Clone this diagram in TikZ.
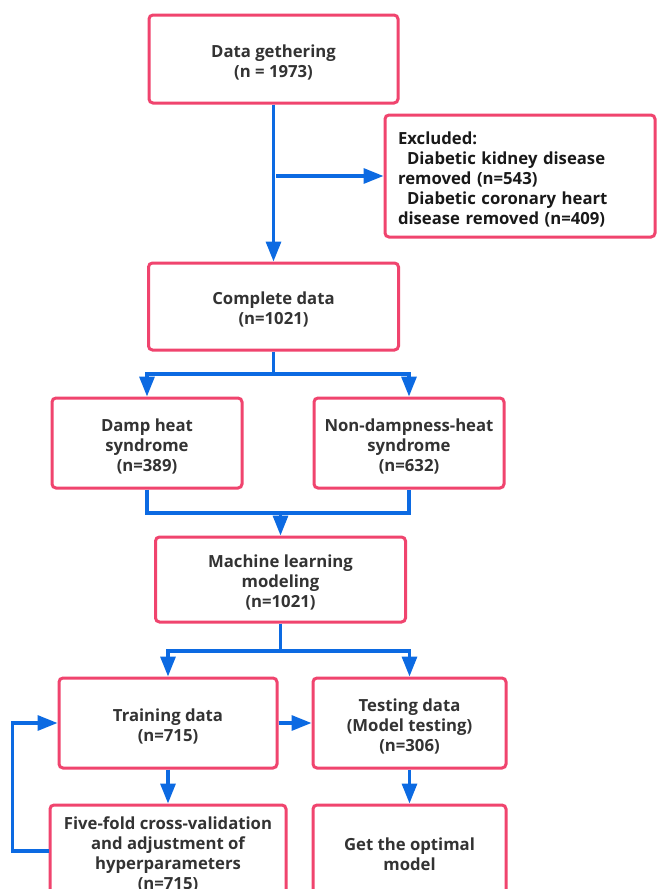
\documentclass[tikz,border=0pt]{standalone}
\usepackage{fontspec}
\setmainfont{Open Sans}
\usetikzlibrary{arrows.meta}
\definecolor{boxpink}{RGB}{240,68,110}
\definecolor{arrowblue}{RGB}{12,106,226}
\definecolor{txt}{RGB}{51,51,51}
\definecolor{txtdark}{RGB}{25,25,25}
\tikzset{
  box/.style={draw=boxpink, line width=3pt, rounded corners=4pt, fill=white,
    align=center, text=txt, font=\fontsize{16.7}{20}\selectfont\bfseries, inner sep=0pt},
  conn/.style={draw=arrowblue, line width=3.2pt},
  arr/.style={conn, -{Triangle[length=20pt,width=15pt]}},
}
\newcommand{\tstrut}{\rule{0pt}{19pt}}
\begin{document}
\begin{tikzpicture}[x=1pt,y=-1pt]
\useasboundingbox (0,0) rectangle (657,889);
\clip (0,0) rectangle (657,889);
\fill[white] (0,0) rectangle (657,889);

\node[box, minimum width=249pt, minimum height=88pt] (data) at (273.5,59) {\tstrut Data gethering\\(n = 1973)};
\node[box, minimum width=270pt, minimum height=122pt, align=left, text width=244pt, text=txtdark] (excl) at (520,176)
  {\tstrut Excluded:\\\hspace*{9pt}Diabetic kidney disease\\removed (n=543)\\\hspace*{9pt}Diabetic coronary heart\\disease removed (n=409)};
\node[box, minimum width=250pt, minimum height=87pt] (complete) at (273.5,306.5) {\tstrut Complete data\\(n=1021)};
\node[box, minimum width=190pt, minimum height=90pt] (damp) at (147,443) {\tstrut Damp heat\\syndrome\\(n=389)};
\node[box, minimum width=190pt, minimum height=90pt] (nondamp) at (409,443) {\tstrut Non-dampness-heat\\syndrome\\(n=632)};
\node[box, minimum width=250pt, minimum height=85pt] (machine) at (280.5,579.5) {\tstrut Machine learning\\modeling\\(n=1021)};
\node[box, minimum width=218pt, minimum height=90pt] (train) at (168,723) {\tstrut Training data\\(n=715)};
\node[box, minimum width=193pt, minimum height=90pt] (test) at (409.5,723) {\tstrut Testing data\\(Model testing)\\(n=306)};
\node[box, minimum width=236pt, minimum height=92pt] (five) at (168,851) {\tstrut Five-fold cross-validation\\and adjustment of\\hyperparameters\\(n=715)};
\node[box, minimum width=193pt, minimum height=92pt] (opt) at (409.5,851) {\tstrut Get the optimal\\model};

\draw[arr] (data.south) -- (complete.north);
\draw[arr] ([xshift=2.5pt]data.south |- excl.west) -- (excl.west);

\draw[conn] (complete.south) -- ++(0,22.5) coordinate (b1);
\draw[arr] (b1) -| (damp.north);
\draw[arr] (b1) -| (nondamp.north);

\coordinate (m1) at (280.5,513);
\draw[conn] (damp.south) |- (m1) -| (nondamp.south);
\draw[arr] (m1) -- (machine.north);

\draw[conn] (machine.south) -- ++(0,27.5) coordinate (b2);
\draw[arr] (b2) -| (train.north);
\draw[arr] (b2) -| (test.north);

\draw[arr] (train.east) -- (test.west);
\draw[arr] (train.south) -- (five.north);
\draw[arr] (test.south) -- (opt.north);
\draw[arr] (five.west) -- ++(-36,0) |- (train.west);
\end{tikzpicture}
\end{document}
